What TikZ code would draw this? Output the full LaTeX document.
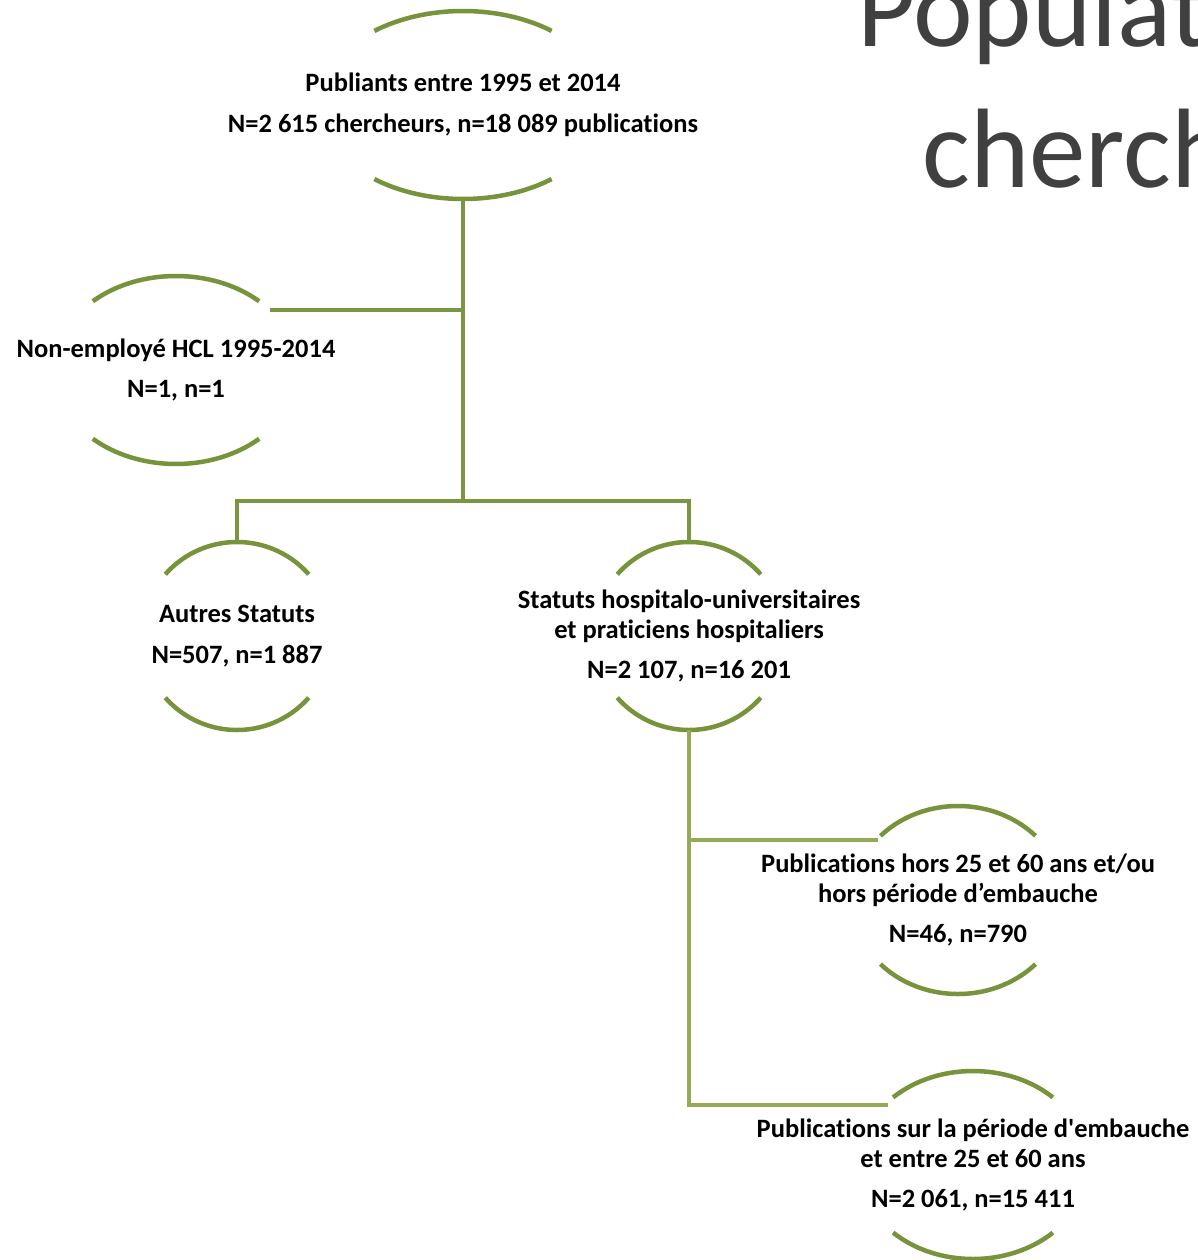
\documentclass[tikz,border=0pt]{standalone}
\usepackage{fontspec}
\setmainfont{Carlito}[Ligatures=NoCommon]
\newfontfamily\titlefont{Carlito}[Ligatures=NoCommon]
\definecolor{arcgreen}{RGB}{119,147,60}
\definecolor{linkgreen}{RGB}{122,150,64}
\definecolor{sublinkgreen}{RGB}{146,172,86}
\definecolor{titlegray}{RGB}{64,64,64}
\begin{document}
\begin{tikzpicture}[x=1pt,y=-1pt,
	arcline/.style={arcgreen,line width=4.5pt},
	linkline/.style={linkgreen,line width=4.5pt},
	sublink/.style={sublinkgreen,line width=4.5pt},
	boxtext/.style={align=center,inner sep=0pt,font=\bfseries\fontsize{26.5}{29.5}\selectfont},
	titletext/.style={titlegray,inner sep=0pt,anchor=base west,font=\titlefont\fontsize{113}{113}\selectfont}]
				\useasboundingbox (0,0) rectangle (1198,1260);
				\clip (0,0) rectangle (1198,1260);
				\node[titletext] (titre1) at (857,47) {Populat};
				\node[titletext] (titre2) at (922,187) {cherch};
				\node[boxtext] (pub) at (463,105) {Publiants entre 1995 et 2014\\[11pt] N=2 615 chercheurs, n=18 089 publications};
				\node[boxtext] (nonemp) at (176,370) {Non-employé HCL 1995-2014\\[11pt] N=1, n=1};
				\node[boxtext] (autres) at (237,636) {Autres Statuts\\[11pt] N=507, n=1 887};
				\node[boxtext] (hosp) at (689,636) {Statuts hospitalo-universitaires\\ et praticiens hospitaliers\\[11pt] N=2 107, n=16 201};
				\node[boxtext] (hors) at (958,900) {Publications hors 25 et 60 ans et/ou\\ hors période d’embauche\\[11pt] N=46, n=790};
				\node[boxtext] (sur) at (973,1165) {Publications sur la période d\textquotesingle embauche\\ et entre 25 et 60 ans\\[11pt] N=2 061, n=15 411};
				\foreach \n/\a/\t in {pub/144/52, nonemp/122/47, autres/95/41, hosp/95/41, hors/106/43, sur/115/46} {
					\draw[arcline] ([shift={(\t:\a pt and 94pt)}]\n.center) arc[start angle=\t, end angle=180-\t, x radius=\a pt, y radius=94pt];
					\draw[arcline] ([shift={(180+\t:\a pt and 94pt)}]\n.center) arc[start angle=180+\t, end angle=360-\t, x radius=\a pt, y radius=94pt];
					\coordinate (\n-top) at ([yshift=94pt]\n.center);
					\coordinate (\n-bot) at ([yshift=-94pt]\n.center);
				}
				\coordinate (fork) at (463,501);
				\coordinate (nonemp-end) at (270,310);
				\coordinate (hors-end) at (878,840);
				\coordinate (sur-end) at (888,1105);
				\draw[linkline] (pub-bot) -- (fork);
				\draw[linkline] (nonemp-end) -- (nonemp-end -| fork);
				\draw[linkline] (autres-top) |- (fork) -| (hosp-top);
				\draw[sublink] (hosp-bot) |- (sur-end);
				\draw[sublink] (hosp-bot |- hors-end) -- (hors-end);
			\end{tikzpicture}
\end{document}
